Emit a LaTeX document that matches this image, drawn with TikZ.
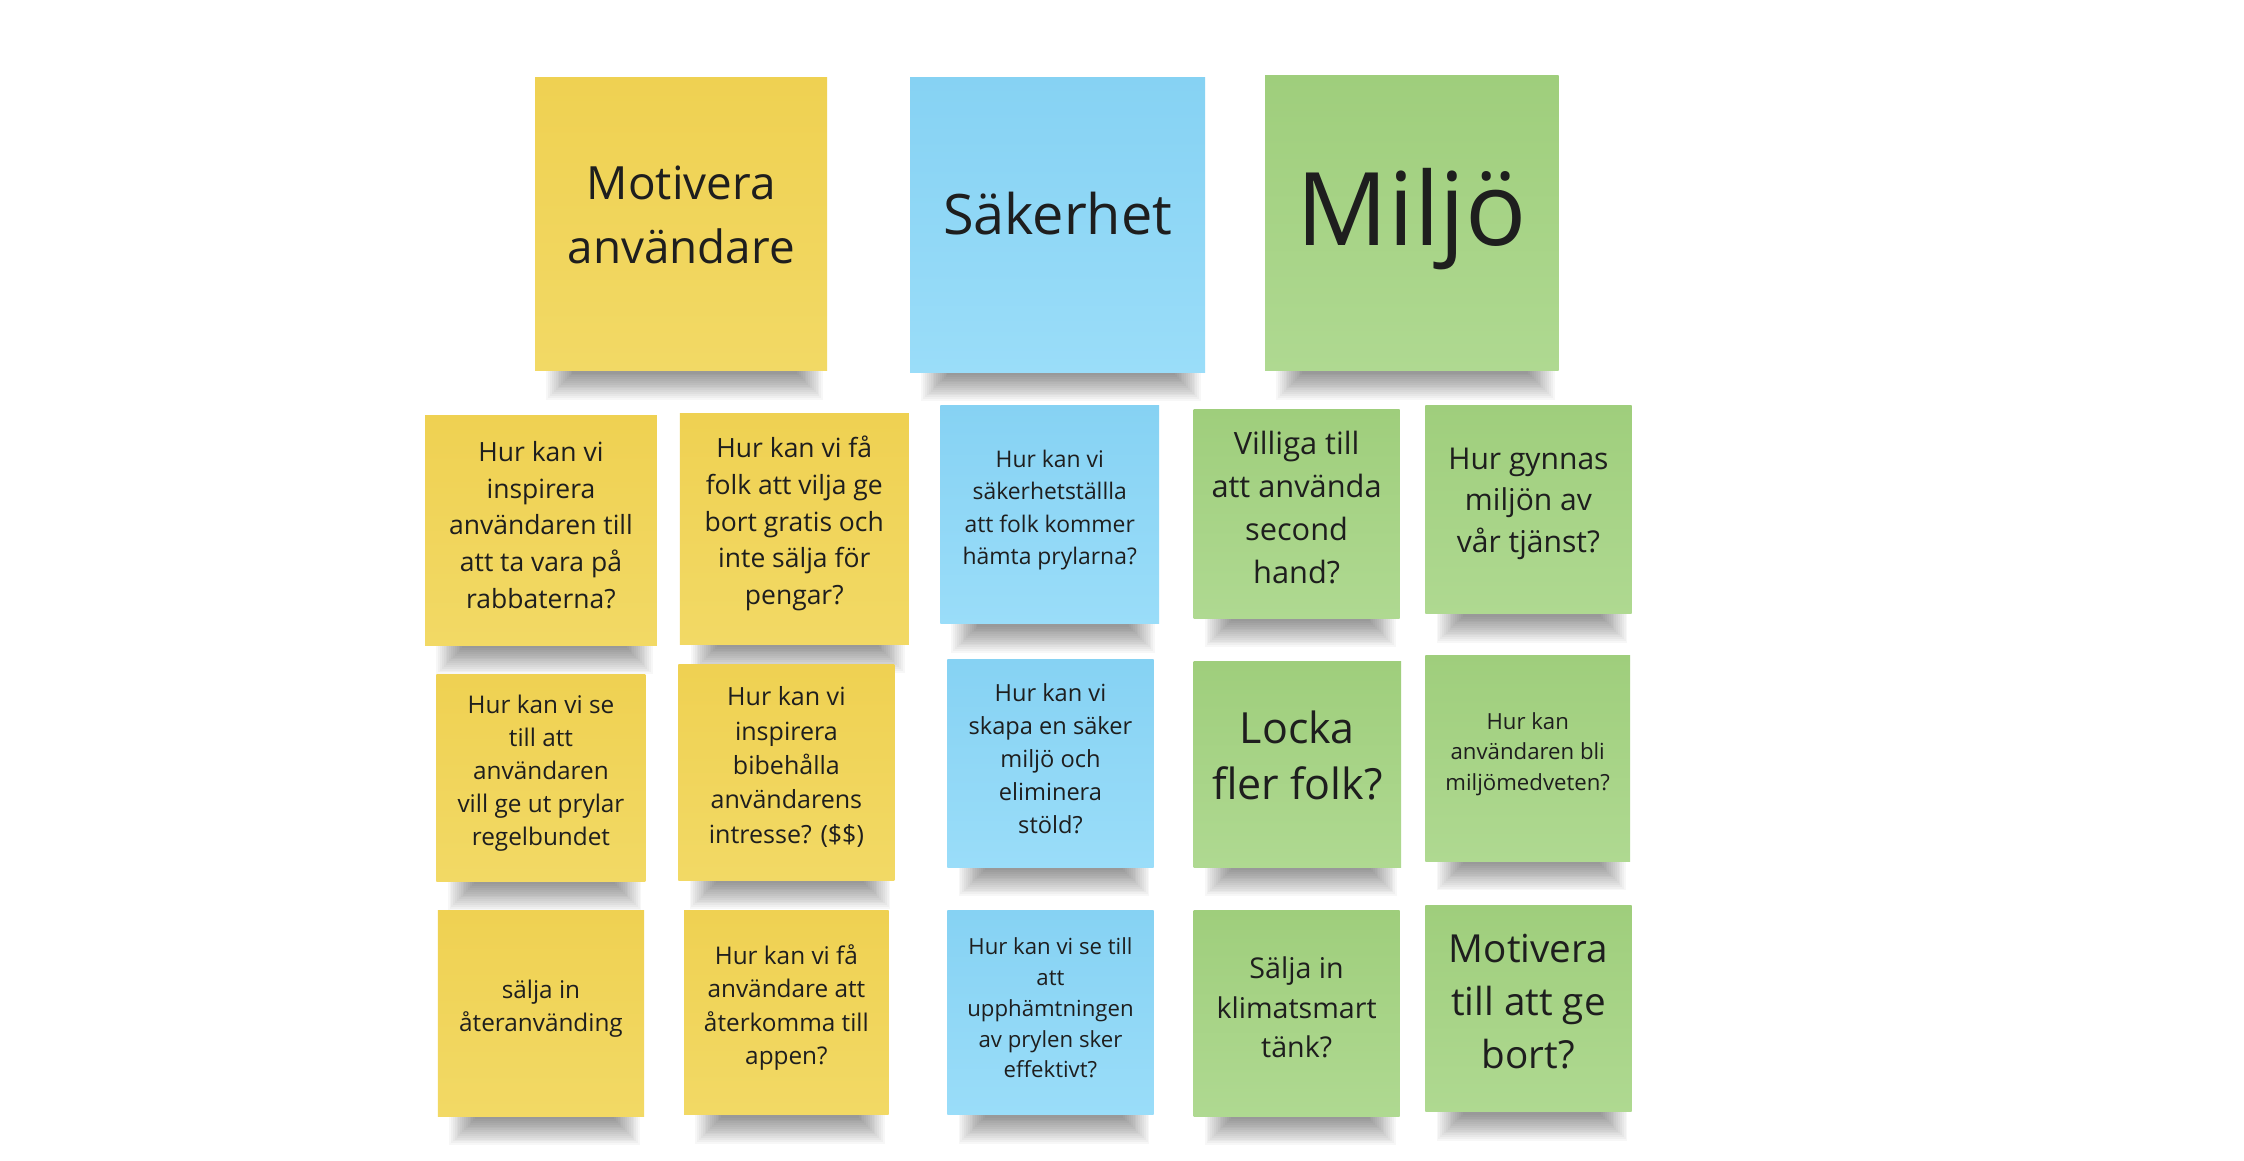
\documentclass[tikz,border=0pt]{standalone}
\usepackage{fontspec}
\setmainfont{Open Sans}
\usetikzlibrary{calc}
\usetikzlibrary{backgrounds}

\definecolor{yelTop}{HTML}{EFD152}
\definecolor{yelBot}{HTML}{F2D965}
\definecolor{bluTop}{HTML}{86D2F3}
\definecolor{bluBot}{HTML}{9ADDF9}
\definecolor{grnTop}{HTML}{9FCE7C}
\definecolor{grnBot}{HTML}{AFD991}
\definecolor{ink}{HTML}{1E1E1E}

\begin{document}
\begin{tikzpicture} [x=1pt, y=-1pt,
  note/.style={inner sep=0pt},
  sz/.style 2 args={minimum width=#1pt, minimum height=#2pt},
  txt/.style 2 args={text=ink, align=center, inner sep=0pt, font=\fontsize{#1}{#2}\selectfont, yshift={#1*0.2}},
  yellownote/.style={note, top color=yelTop, bottom color=yelBot},
  bluenote/.style={note, top color=bluTop, bottom color=bluBot},
  greennote/.style={note, top color=grnTop, bottom color=grnBot}]
\useasboundingbox (0,0) rectangle (1568,811.2);
% rubriker
\node[yellownote, sz={204}{205}, label={[txt={32}{45}]center:Motivera\\användare}] (mot) at (476,156.5) {};
\node[bluenote, sz={206}{206}, label={[txt={39}{50}]center:Säkerhet}] (sak) at (739,157) {};
\node[greennote, sz={205}{206}, label={[txt={71}{80}, yshift=-11]center:Miljö}] (mil) at (986.5,156) {};
% rad 1
\node[yellownote, sz={162}{161}, label={[txt={18.5}{25.7}]center:Hur kan vi\\inspirera\\användaren till\\att ta vara på\\rabbaterna?}] (y1) at (378,370.5) {};
\node[yellownote, sz={160}{161}, label={[txt={18.5}{25.7}]center:Hur kan vi få\\folk att vilja ge\\bort gratis och\\inte sälja för\\pengar?}] (y2) at (555,369.5) {};
\node[bluenote, sz={153}{153}, label={[txt={16}{22.7}]center:Hur kan vi\\säkerhetställla\\att folk kommer\\hämta prylarna?}] (b1) at (733.5,359.5) {};
\node[greennote, sz={144}{146}, label={[txt={21.5}{30}]center:Villiga till\\att använda\\second\\hand?}] (g1) at (906,359) {};
\node[greennote, sz={144}{146}, label={[txt={21}{29}]center:Hur gynnas\\miljön av\\vår tjänst?}] (g2) at (1068,356) {};
% rad 2
\node[yellownote, sz={146}{145}, label={[txt={17}{23}]center:Hur kan vi se\\till att\\användaren\\vill ge ut prylar\\regelbundet}] (y3) at (378,543.5) {};
\node[yellownote, sz={151}{151}, label={[txt={17.5}{24}]center:Hur kan vi\\inspirera\\bibehålla\\användarens\\intresse? (\$\$)}] (y4) at (549.5,539.5) {};
\node[bluenote, sz={144}{145}, label={[txt={16.5}{23}]center:Hur kan vi\\skapa en säker\\miljö och\\eliminera\\stöld?}] (b2) at (734,533.5) {};
\node[greennote, sz={145}{144}, label={[txt={30}{39}]center:Locka\\fler folk?}] (g3) at (906.5,534) {};
\node[greennote, sz={143}{144}, label={[txt={15.5}{21.5}]center:Hur kan\\användaren bli\\miljömedveten?}] (g4) at (1067.5,530) {};
% rad 3
\node[yellownote, sz={144}{144}, label={[txt={17}{23}]center:sälja in\\återanvänding}] (y5) at (378,708) {};
\node[yellownote, sz={143}{143}, label={[txt={17}{23.3}]center:Hur kan vi få\\användare att\\återkomma till\\appen?}] (y6) at (549.5,707.5) {};
\node[bluenote, sz={144}{143}, label={[txt={15.5}{21.5}]center:Hur kan vi se till\\att\\upphämtningen\\av prylen sker\\effektivt?}] (b3) at (734,707.5) {};
\node[greennote, sz={144}{144}, label={[txt={20}{27.5}]center:Sälja in\\klimatsmart\\tänk?}] (g5) at (906,708) {};
\node[greennote, sz={144}{144}, label={[txt={27}{37}]center:Motivera\\till att ge\\bort?}] (g6) at (1068,705) {};
% skuggor
\begin{scope}[on background layer]
\fill[white] (0,0) rectangle (1568,811.2);
\foreach \n in {mot,sak,mil,y1,y2,b1,g1,g2,y3,y4,b2,g3,g4,y5,y6,b3,g5,g6} {
  \foreach \k in {0,...,14}
    \fill[black, opacity=.032] ($(\n.south west)+(8+\k*1.3,0)$) rectangle ($(\n.south east)+(-3-\k*1.3,20-\k*1.3)$);
}
\end{scope}
\end{tikzpicture}
\end{document}
